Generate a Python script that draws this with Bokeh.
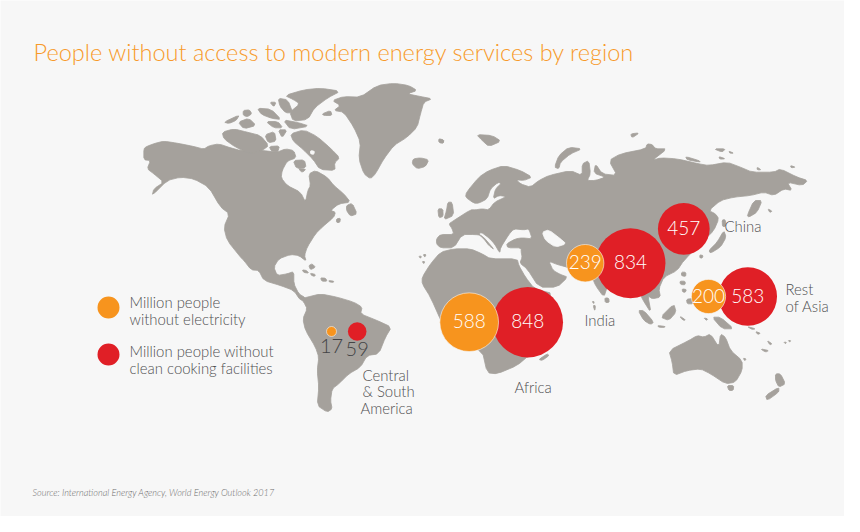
from bokeh.plotting import figure
from bokeh.core.properties import value
from bokeh.embed import file_html
from bokeh.resources import INLINE

# ---------- data ----------
electricity_regions = ["Central & South America", "Africa", "India", "Rest of Asia"]
electricity_values = [17, 588, 239, 200]
electricity_x = [331.0, 468.7, 584.7, 708.0]
electricity_y = [331.0, 321.7, 262.7, 296.0]
cooking_regions = ["Central & South America", "Africa", "India", "China", "Rest of Asia"]
cooking_values = [59, 848, 834, 457, 583]
cooking_x = [356.7, 527.3, 630.0, 683.3, 747.3]
cooking_y = [331.0, 321.7, 262.7, 228.3, 296.0]
SCALE = 1.21

# map outlines, traced: west block units
north_america = [(40,235),(48,228),(75,218),(100,212),(140,218),(190,228),(220,236),(235,226),(265,220),(300,232),(330,240),(365,238),(395,240),(440,245),(465,235),(490,240),(497,262),(470,272),(455,300),(452,322),(470,345),(510,365),(525,395),(532,360),(540,345),(535,310),(555,300),(590,320),(610,345),(640,370),(660,395),(625,400),(600,420),(615,425),(610,440),(575,470),(555,490),(530,530),(522,555),(527,572),(505,555),(480,552),(445,565),(430,590),(440,615),(470,610),(490,603),(490,640),(505,670),(525,682),(510,690),(490,660),(450,645),(400,630),(385,600),(362,598),(340,570),(330,560),(290,510),(280,470),(297,430),(270,410),(235,350),(190,325),(150,320),(110,330),(65,375),(70,355),(100,335),(70,310),(50,295),(60,270),(40,268)]
baffin = [(480,190),(520,178),(560,198),(602,235),(628,262),(612,277),(614,300),(568,297),(548,267),(518,237),(488,212)]
ellesmere = [(463,75),(520,58),(570,53),(630,62),(592,82),(552,112),(532,147),(488,152),(478,125),(508,100),(488,87)]
victoria = [(275,185),(310,175),(350,185),(390,195),(415,225),(395,240),(360,250),(315,230),(280,205)]
banks = [(323,155),(355,143),(377,165),(340,175)]
melville = [(280,155),(327,133),(317,150),(295,159)]
arctic_a = [(338,120),(357,118),(364,130),(350,139),(338,134)]
arctic_b = [(380,113),(422,116),(452,147),(425,144),(393,132)]
arctic_c = [(443,83),(472,88),(487,127),(465,127),(448,107)]
arctic_d = [(406,153),(442,153),(457,172),(430,172)]
arctic_e = [(458,148),(502,156),(537,167),(480,177)]
arctic_f = [(403,193),(432,183),(437,212),(413,217)]
arctic_g = [(443,178),(470,178),(455,202)]
arctic_h = [(416,228),(447,226),(442,244),(423,242)]
arctic_i = [(418,95),(437,95),(430,109)]
southampton = [(488,270),(522,268),(527,292),(498,294)]
mansel = [(503,294),(527,296),(515,306)]
newfoundland = [(648,405),(665,398),(680,430),(660,437),(648,420)]
nova_scotia = [(618,445),(630,443),(628,456),(618,456)]
greenland = [(605,90),(640,78),(690,80),(740,45),(790,38),(835,45),(860,60),(830,70),(870,78),(905,85),(880,95),(870,130),(860,170),(830,200),(790,225),(760,265),(735,310),(720,325),(700,310),(685,265),(690,215),(670,170),(640,125),(610,120),(630,105)]
disko = [(575,130),(600,120),(605,135),(580,135)]
iceland = [(848,265),(870,262),(895,268),(885,288),(860,295),(845,280)]
jan_mayen = [(925,205),(940,208),(938,218),(926,216)]
cuba = [(515,598),(528,600),(535,608),(520,606)]
bahamas = [(535,585),(545,580),(555,590),(540,598)]
hispaniola = [(540,608),(555,612),(552,618),(542,614)]
jamaica = [(570,622),(585,623),(590,632),(574,632)]
puerto_rico = [(595,630),(610,632),(608,636),(596,634)]
south_america = [(510,685),(530,680),(570,670),(620,680),(670,695),(695,710),(690,730),(740,750),(783,770),(765,800),(745,850),(710,855),(690,890),(655,910),(625,940),(605,955),(600,990),(605,1015),(590,1025),(560,1005),(565,950),(560,900),(565,860),(555,830),(525,780),(517,745),(530,715),(520,695)]
west_outlines = [north_america, baffin, ellesmere, victoria, banks, melville, arctic_a, arctic_b, arctic_c, arctic_d, arctic_e, arctic_f, arctic_g, arctic_h, arctic_i, southampton, mansel, newfoundland, nova_scotia, greenland, disko, iceland, jan_mayen, cuba, bahamas, hispaniola, jamaica, puerto_rico, south_america]

# east block units
eurasia = [(78,355),(90,342),(130,342),(125,325),(115,310),(130,300),(180,268),(195,268),(215,265),(235,268),(252,245),(288,228),(265,225),(248,235),(255,205),(273,188),(262,186),(240,205),(230,235),(205,248),(190,248),(165,230),(168,215),(205,170),(235,150),(280,135),(330,150),(365,170),(340,180),(318,178),(330,190),(360,200),(385,180),(415,165),(480,150),(515,165),(515,130),(535,120),(540,160),(530,180),(555,180),(585,170),(550,158),(555,130),(575,160),(620,165),(595,120),(630,100),(705,85),(710,70),(725,72),(735,85),(770,85),(725,120),(750,112),(800,115),(865,130),(895,135),(950,125),(990,140),(1025,155),(1090,155),(1110,145),(1160,170),(1192,180),(1175,195),(1130,185),(1145,210),(1120,205),(1090,225),(1060,215),(1020,225),(970,230),(930,240),(895,270),(915,280),(925,295),(910,330),(880,360),(820,420),(800,450),(760,470),(745,505),(750,530),(725,535),(712,525),(722,578),(695,535),(690,520),(600,500),(590,500),(580,530),(555,495),(545,470),(470,440),(440,432),(415,422),(428,450),(450,462),(472,470),(440,500),(385,500),(350,445),(328,428),(335,410),(332,395),(332,382),(292,382),(288,370),(315,355),(335,352),(365,355),(355,325),(340,328),(310,325),(295,342),(270,382),(268,398),(252,370),(235,352),(212,335),(205,342),(220,355),(235,375),(252,388),(215,345),(195,342),(155,342),(130,382),(90,382),(78,370)]
africa = [(35,470),(60,430),(90,395),(130,385),(180,385),(215,400),(240,415),(320,415),(325,435),(345,470),(372,505),(430,520),(400,700),(355,705),(320,735),(260,760),(230,757),(215,690),(100,620),(60,530),(35,490)]
britain = [(112,245),(125,245),(130,285),(100,298),(108,270)]
ireland = [(82,265),(97,265),(98,288),(85,292)]
svalbard = [(198,42),(245,45),(272,62),(235,78),(215,60)]
faroes = [(85,55),(100,60),(98,68),(86,66)]
novaya = [(432,140),(445,105),(475,80),(515,85),(480,100),(450,125),(445,145)]
franz = [(660,40),(687,37),(665,52)]
canary_a = [(25,407),(33,407),(30,414)]
canary_b = [(38,402),(47,402),(43,410)]
canary_c = [(35,423),(43,423),(40,430)]
japan = [(895,390),(920,365),(940,330),(947,350),(930,380),(900,398)]
hokkaido = [(935,298),(945,298),(945,318),(936,318)]
sakhalin = [(1010,285),(1030,240),(1055,240),(1040,275),(1015,290)]
kuril = [(1072,265),(1085,272),(1078,276)]
taiwan = [(868,403),(878,405),(875,413),(868,412)]
philippine_a = [(813,455),(826,455),(826,468),(813,466)]
philippine_b = [(808,482),(824,482),(824,493),(810,492)]
philippine_c = [(815,505),(828,507),(824,516),(816,514)]
mindanao = [(828,536),(848,534),(848,550),(830,550)]
sri_lanka = [(583,532),(595,533),(596,546),(584,546)]
maldive_a = [(545,543),(551,543),(550,550)]
maldive_b = [(548,555),(555,555),(553,572)]
sumatra = [(683,570),(700,570),(730,605),(720,612),(700,600)]
borneo = [(750,590),(790,550),(797,575),(775,600)]
java = [(742,615),(765,618),(760,621),(744,620)]
sulawesi = [(810,588),(825,598),(820,600),(810,592)]
sulawesi_b = [(880,592),(892,595),(888,600)]
new_guinea = [(905,590),(930,590),(970,625),(935,625)]
bismarck_a = [(1010,618),(1035,625),(1025,627)]
bismarck_b = [(1035,633),(1050,638),(1042,642)]
solomon = [(1070,660),(1085,670),(1078,673)]
fiji_a = [(1050,685),(1075,690),(1065,695)]
vanuatu_a = [(1120,665),(1128,665),(1125,670)]
vanuatu_b = [(1133,660),(1141,660),(1138,665)]
australia = [(775,690),(835,660),(860,645),(880,650),(900,640),(925,680),(930,640),(945,650),(960,690),(995,720),(995,750),(975,785),(945,790),(900,760),(870,745),(830,750),(790,765),(785,725)]
tasmania = [(950,795),(970,795),(968,810),(955,810)]
nz_north = [(1095,760),(1110,760),(1125,790),(1105,800),(1095,780)]
nz_south = [(1065,825),(1105,800),(1105,815),(1070,840)]
new_caledonia = [(998,713),(1007,715),(1003,721)]
russia_a = [(910,85),(945,85),(935,95)]
russia_b = [(955,92),(970,98),(958,98)]
russia_c = [(925,108),(945,115),(928,116)]
russia_d = [(825,108),(865,120),(870,125),(830,118)]
russia_e = [(1140,135),(1155,140),(1142,142)]
russia_f = [(1040,140),(1052,148),(1040,148)]
madagascar = [(385,717),(410,700),(416,705),(395,720)]
east_outlines = [eurasia, africa, britain, ireland, svalbard, faroes, novaya, franz, canary_a, canary_b, canary_c, japan, hokkaido, sakhalin, kuril, taiwan, philippine_a, philippine_b, philippine_c, mindanao, sri_lanka, maldive_a, maldive_b, sumatra, borneo, java, sulawesi, sulawesi_b, new_guinea, bismarck_a, bismarck_b, solomon, fiji_a, vanuatu_a, vanuatu_b, australia, tasmania, nz_north, nz_south, new_caledonia, russia_a, russia_b, russia_c, russia_d, russia_e, russia_f, madagascar]

# water inside the land
caspian = [(395,335),(415,328),(450,355),(467,370),(435,380),(405,360)]
east_water = [caspian]
baffin_lake = [(540,240),(552,242),(550,252),(540,250)]
west_water = [baffin_lake]

title_text = "People without access to modern energy services by region"
source_text = "Source: International Energy Agency, World Energy Outlook 2017"
legend_lines = ["Million people", "without electricity", "Million people without", "clean cooking facilities"]
legend_line_y = [301, 318, 350, 367]
legend_values_y = [307, 354]
region_labels = ["China", "Rest", "of Asia", "India", "Africa", "Central", "& South", "America"]
region_label_x = [724, 785, 785, 584, 514, 362, 362, 360]
region_label_y = [225, 288, 305, 319, 386, 374, 390, 407]

# ---------- drawing ----------
BG, LAND, ORANGE, RED, GREY = "#f7f7f7", "#a5a19c", "#f7941e", "#e01f26", "#4f4f51"
FONT = value("Lato Light, Lato")

def round_corners(xs, ys):
    ox, oy = [], []
    n = len(xs)
    for i in range(n):
        j = (i + 1) % n
        ox += [0.8 * xs[i] + 0.2 * xs[j], 0.2 * xs[i] + 0.8 * xs[j]]
        oy += [0.8 * ys[i] + 0.2 * ys[j], 0.2 * ys[i] + 0.8 * ys[j]]
    return ox, oy

def from_west(poly):
    return round_corners([130 + a / 3 for a, _ in poly], [70 + b / 3 for _, b in poly])

def from_east(poly):
    return round_corners([410 + a / 3 for a, _ in poly], [120 + b / 3 for _, b in poly])

p = figure(width=844, height=516, x_range=(0, 844), y_range=(516, 0),
           output_backend="svg", toolbar_location=None, min_border=0)
p.axis.visible = False
p.grid.visible = False
p.outline_line_color = None
p.background_fill_color = BG
p.border_fill_color = BG

def draw(polys, conv, color):
    pairs = [conv(q) for q in polys]
    p.patches([a for a, _ in pairs], [b for _, b in pairs], fill_color=color,
              line_color=color, line_width=0.8, line_join="round")

draw(west_outlines, from_west, LAND)
draw(east_outlines, from_east, LAND)
draw(west_water, from_west, BG)
draw(east_water, from_east, BG)

p.circle(cooking_x, cooking_y, radius=[SCALE * v ** 0.5 for v in cooking_values],
         fill_color=RED, line_color=None)
p.circle(electricity_x, electricity_y, radius=[SCALE * v ** 0.5 for v in electricity_values],
         fill_color=ORANGE, line_color=BG, line_width=0.6)
p.circle([108, 108], legend_values_y, radius=11, fill_color=[ORANGE, RED], line_color=None)

small = [i for i, v in enumerate(electricity_values) if v >= 100]
p.text([electricity_x[i] for i in small], [electricity_y[i] - 1 for i in small],
       text=[str(electricity_values[i]) for i in small], text_align="center", text_baseline="middle",
       text_color="#ffffff", text_font_size="19px", text_font=FONT)
big = [i for i, v in enumerate(cooking_values) if v >= 100]
p.text([cooking_x[i] for i in big], [cooking_y[i] - 1 for i in big],
       text=[str(cooking_values[i]) for i in big], text_align="center", text_baseline="middle",
       text_color="#ffffff", text_font_size="19px", text_font=FONT)
p.text([331, 356.7], [345, 348.5], text=[str(electricity_values[0]), str(cooking_values[0])],
       text_align="center", text_baseline="middle", text_color="#444446",
       text_font_size="20px", text_font=FONT)

p.text([33], [51], text=[title_text], text_baseline="middle", text_color="#f79a2a",
       text_font_size="23.55px", text_font=FONT)
p.text([129] * 4, legend_line_y, text=legend_lines, text_baseline="middle", text_color=GREY,
       text_font_size="14.9px", text_font=FONT)
p.text(region_label_x, region_label_y, text=region_labels, text_baseline="middle", text_color=GREY,
       text_font_size="14.9px", text_font=FONT)
p.text([32], [492], text=[source_text], text_baseline="middle", text_color="#6e6e6e",
       text_font_size="9.15px", text_font=FONT, text_font_style="italic")

open("out.html", "w").write(file_html(p, INLINE))
